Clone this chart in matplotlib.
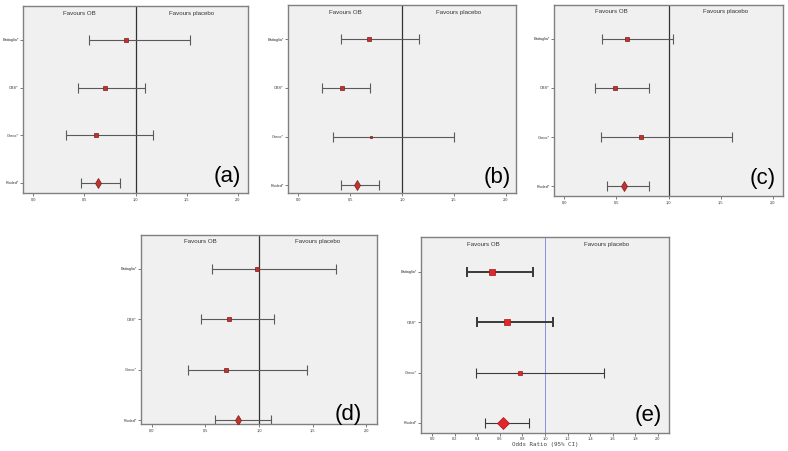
import matplotlib
matplotlib.use("Agg")
import matplotlib.pyplot as plt

plt.rcParams["font.family"] = ["Liberation Sans", "DejaVu Sans"]

STUDIES = ["Battaglia*", "OBS*", "Greco*", "Pooled*"]
PANELS = ["(a)", "(b)", "(c)", "(d)", "(e)"]

# odds ratio and 95% CI per panel, rows in STUDIES order
OR_A = [0.91, 0.70, 0.61, 0.63]
LO_A = [0.55, 0.44, 0.32, 0.47]
HI_A = [1.53, 1.09, 1.17, 0.85]

OR_B = [0.68, 0.42, 0.70, 0.57]
LO_B = [0.41, 0.23, 0.33, 0.41]
HI_B = [1.16, 0.69, 1.50, 0.78]

OR_C = [0.60, 0.49, 0.74, 0.57]
LO_C = [0.36, 0.29, 0.35, 0.41]
HI_C = [1.04, 0.81, 1.61, 0.81]

OR_D = [0.98, 0.72, 0.69, 0.80]
LO_D = [0.56, 0.46, 0.34, 0.59]
HI_D = [1.72, 1.14, 1.45, 1.11]

OR_E = [0.53, 0.66, 0.78, 0.63]
LO_E = [0.31, 0.40, 0.39, 0.47]
HI_E = [0.89, 1.07, 1.52, 0.86]

TICKS_AD = [0.0, 0.5, 1.0, 1.5, 2.0]
TICKS_E = [0.0, 0.2, 0.4, 0.6, 0.8, 1.0, 1.2, 1.4, 1.6, 1.8, 2.0]

DATA = [
    (OR_A, LO_A, HI_A),
    (OR_B, LO_B, HI_B),
    (OR_C, LO_C, HI_C),
    (OR_D, LO_D, HI_D),
    (OR_E, LO_E, HI_E),
]

# layout / style (pixels of a 788x451 canvas)
W, H = 788, 451
RECTS = [
    (23, 6, 248, 193),
    (288, 5, 516, 193),
    (554, 5, 783, 196),
    (141, 235, 377, 424),
    (421, 237, 669, 433),
]
YLIMS = [(-0.21, 3.71), (-0.16, 3.70), (-0.20, 3.69), (-0.07, 3.67), (-0.20, 3.69)]
LABEL_POS = [(0.91, 0.086), (0.917, 0.085), (0.91, 0.094), (0.877, 0.05), (0.915, 0.087)]
SIZES = [
    [2.6, 3.4, 2.2, 4.8],
    [2.9, 3.4, 1.7, 4.8],
    [2.9, 3.4, 2.4, 4.8],
    [2.9, 3.4, 2.6, 4.8],
    [4.3, 3.8, 2.6, 6.0],
]

fig = plt.figure(figsize=(W / 100, H / 100), dpi=100)

for k, (est, lo, hi) in enumerate(DATA):
    l, t, r, b = RECTS[k]
    ax = fig.add_axes([l / W, 1 - b / H, (r - l) / W, (b - t) / H])
    ax.set_facecolor("#f0f0f0")
    is_e = k == 4
    for s in ax.spines.values():
        s.set_color("#808080")
        s.set_linewidth(1.0)

    rows = [3, 2, 1, 0]
    for i, y in enumerate(rows):
        if is_e:
            lw = 1.4 if i < 2 else 0.8
            ecol = "#3a3a3a"
            face, edge = "#e3262b", "#a01818"
        else:
            lw = 0.8
            ecol = "#5a5a5a"
            face, edge = "#c0332e", "#7a1a1a"
        ax.errorbar([est[i]], [y], xerr=[[est[i] - lo[i]], [hi[i] - est[i]]],
                    fmt="none", ecolor=ecol, elinewidth=lw, capsize=3.6 if is_e else 3.3,
                    capthick=lw, zorder=2)
        if i == 3:
            marker = "D" if is_e else "d"
        else:
            marker = "s"
        ax.plot([est[i]], [y], marker=marker, ms=SIZES[k][i], mfc=face, mec=edge,
                mew=0.5, ls="none", zorder=3)

    ax.axvline(1.0, color="#8c8ce6" if is_e else "#333333",
               lw=0.7 if is_e else 0.9, zorder=1)

    ax.set_xlim(-0.1, 2.1)
    ax.set_ylim(*YLIMS[k])
    ax.set_yticks(rows)
    ax.set_yticklabels(STUDIES)
    if is_e:
        ax.set_xticks(TICKS_E)
        ax.set_xticklabels([f"{v:.1f}" for v in TICKS_E])
        ax.set_xlabel("Odds Ratio (95% CI)", fontsize=4.2, labelpad=0.5,
                      family="DejaVu Sans Mono", color="#444444")
    else:
        ax.set_xticks(TICKS_AD)
        ax.set_xticklabels([f"{v:.1f}".replace(".", ",") for v in TICKS_AD])
    ax.tick_params(axis="both", length=2, width=0.6, color="#666666",
                   labelsize=2.8, pad=1, labelcolor="#333333")

    ax.text(0.45, 3.55, "Favours OB", ha="center", va="center", fontsize=4.4, color="#333333")
    ax.text(1.55, 3.55, "Favours placebo", ha="center", va="center", fontsize=4.4, color="#333333")

    ax.text(*LABEL_POS[k], PANELS[k], transform=ax.transAxes, ha="center", va="center",
            fontsize=16, color="black")

fig.savefig("out.png", dpi=100)
